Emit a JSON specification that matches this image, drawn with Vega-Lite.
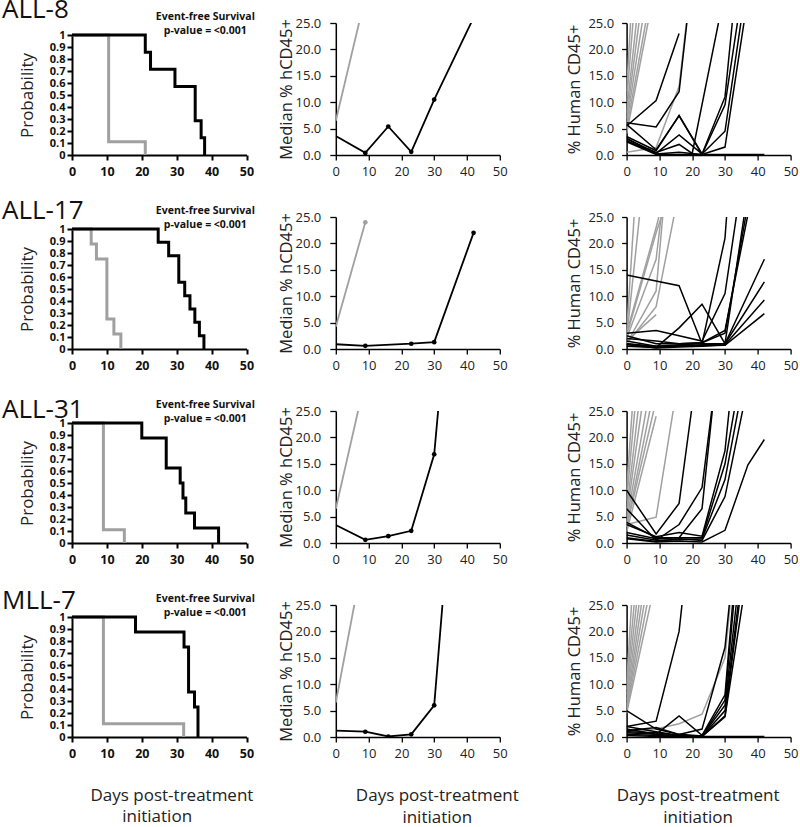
{
"$schema": "https://vega.github.io/schema/vega-lite/v6.json",
"background": "white",
"padding": {"left": 2, "top": -3, "right": 5, "bottom": 0},
"config": {
  "view": {"stroke": null},
  "font": "Open Sans",
  "axis": {"grid": false, "labelOverlap": false, "labelFlush": false, "domainColor": "#000", "tickColor": "#000", "labelColor": "#222", "titleColor": "#222", "labelFont": "Open Sans", "titleFont": "Open Sans", "titleFontWeight": "normal"}
},
"datasets": {
  "km": [
    {"pn":"ALL-8","g":"c","d":0,"s":1},{"pn":"ALL-8","g":"c","d":10.5,"s":0.111},{"pn":"ALL-8","g":"c","d":21,"s":0},
    {"pn":"ALL-8","g":"t","d":0,"s":1},{"pn":"ALL-8","g":"t","d":21,"s":0.857},{"pn":"ALL-8","g":"t","d":22.5,"s":0.714},{"pn":"ALL-8","g":"t","d":29.5,"s":0.571},{"pn":"ALL-8","g":"t","d":35.3,"s":0.286},{"pn":"ALL-8","g":"t","d":37,"s":0.143},{"pn":"ALL-8","g":"t","d":38,"s":0},
    {"pn":"ALL-17","g":"c","d":0,"s":1},{"pn":"ALL-17","g":"c","d":5.5,"s":0.875},{"pn":"ALL-17","g":"c","d":7,"s":0.75},{"pn":"ALL-17","g":"c","d":10,"s":0.25},{"pn":"ALL-17","g":"c","d":12,"s":0.125},{"pn":"ALL-17","g":"c","d":14,"s":0},
    {"pn":"ALL-17","g":"t","d":0,"s":1},{"pn":"ALL-17","g":"t","d":24.7,"s":0.889},{"pn":"ALL-17","g":"t","d":27.7,"s":0.778},{"pn":"ALL-17","g":"t","d":30.6,"s":0.556},{"pn":"ALL-17","g":"t","d":32.3,"s":0.444},{"pn":"ALL-17","g":"t","d":33.8,"s":0.333},{"pn":"ALL-17","g":"t","d":35.2,"s":0.222},{"pn":"ALL-17","g":"t","d":36.5,"s":0.111},{"pn":"ALL-17","g":"t","d":37.8,"s":0},
    {"pn":"ALL-31","g":"c","d":0,"s":1},{"pn":"ALL-31","g":"c","d":9,"s":0.111},{"pn":"ALL-31","g":"c","d":15,"s":0},
    {"pn":"ALL-31","g":"t","d":0,"s":1},{"pn":"ALL-31","g":"t","d":20,"s":0.875},{"pn":"ALL-31","g":"t","d":27,"s":0.625},{"pn":"ALL-31","g":"t","d":31,"s":0.5},{"pn":"ALL-31","g":"t","d":31.8,"s":0.375},{"pn":"ALL-31","g":"t","d":32.6,"s":0.25},{"pn":"ALL-31","g":"t","d":35.1,"s":0.125},{"pn":"ALL-31","g":"t","d":42,"s":0},
    {"pn":"MLL-7","g":"c","d":0,"s":1},{"pn":"MLL-7","g":"c","d":9,"s":0.111},{"pn":"MLL-7","g":"c","d":32,"s":0},
    {"pn":"MLL-7","g":"t","d":0,"s":1},{"pn":"MLL-7","g":"t","d":18.2,"s":0.875},{"pn":"MLL-7","g":"t","d":32.1,"s":0.75},{"pn":"MLL-7","g":"t","d":33.4,"s":0.375},{"pn":"MLL-7","g":"t","d":35.1,"s":0.25},{"pn":"MLL-7","g":"t","d":36.1,"s":0}
  ],
  "med": [
    {"pn":"ALL-8","g":"c","d":0,"v":6.5},{"pn":"ALL-8","g":"c","d":9,"v":30},
    {"pn":"ALL-8","g":"t","d":0,"v":3.6},{"pn":"ALL-8","g":"t","d":9,"v":0.4},{"pn":"ALL-8","g":"t","d":16,"v":5.4},{"pn":"ALL-8","g":"t","d":23,"v":0.6},{"pn":"ALL-8","g":"t","d":30,"v":10.5},{"pn":"ALL-8","g":"t","d":42,"v":26},
    {"pn":"ALL-17","g":"c","d":0,"v":4.2},{"pn":"ALL-17","g":"c","d":9,"v":24},
    {"pn":"ALL-17","g":"t","d":0,"v":0.9},{"pn":"ALL-17","g":"t","d":9,"v":0.6},{"pn":"ALL-17","g":"t","d":23,"v":1.0},{"pn":"ALL-17","g":"t","d":30,"v":1.3},{"pn":"ALL-17","g":"t","d":42,"v":22},
    {"pn":"ALL-31","g":"c","d":0,"v":6.5},{"pn":"ALL-31","g":"c","d":9,"v":31},
    {"pn":"ALL-31","g":"t","d":0,"v":3.4},{"pn":"ALL-31","g":"t","d":9,"v":0.6},{"pn":"ALL-31","g":"t","d":16,"v":1.3},{"pn":"ALL-31","g":"t","d":23,"v":2.3},{"pn":"ALL-31","g":"t","d":30,"v":16.8},{"pn":"ALL-31","g":"t","d":37,"v":65},
    {"pn":"MLL-7","g":"c","d":0,"v":6.5},{"pn":"MLL-7","g":"c","d":9,"v":36},
    {"pn":"MLL-7","g":"t","d":0,"v":1.2},{"pn":"MLL-7","g":"t","d":9,"v":1.0},{"pn":"MLL-7","g":"t","d":16,"v":0.1},{"pn":"MLL-7","g":"t","d":23,"v":0.5},{"pn":"MLL-7","g":"t","d":30,"v":6.0},{"pn":"MLL-7","g":"t","d":37,"v":59}
  ],
  "ind": [
    {"pn":"ALL-8","g":"c","m":1,"d":0,"v":12},{"pn":"ALL-8","g":"c","m":1,"d":9,"v":110},
    {"pn":"ALL-8","g":"c","m":2,"d":0,"v":10},{"pn":"ALL-8","g":"c","m":2,"d":9,"v":80},
    {"pn":"ALL-8","g":"c","m":3,"d":0,"v":8},{"pn":"ALL-8","g":"c","m":3,"d":9,"v":60},
    {"pn":"ALL-8","g":"c","m":4,"d":0,"v":7},{"pn":"ALL-8","g":"c","m":4,"d":9,"v":50},
    {"pn":"ALL-8","g":"c","m":5,"d":0,"v":6},{"pn":"ALL-8","g":"c","m":5,"d":9,"v":42},
    {"pn":"ALL-8","g":"c","m":6,"d":0,"v":5},{"pn":"ALL-8","g":"c","m":6,"d":9,"v":36},
    {"pn":"ALL-8","g":"c","m":7,"d":0,"v":4},{"pn":"ALL-8","g":"c","m":7,"d":9,"v":33},
    {"pn":"ALL-8","g":"c","m":8,"d":0,"v":0.5},{"pn":"ALL-8","g":"c","m":8,"d":9,"v":1.4},{"pn":"ALL-8","g":"c","m":8,"d":16,"v":13},{"pn":"ALL-8","g":"c","m":8,"d":21,"v":40},
    {"pn":"ALL-8","g":"t","m":1,"d":0,"v":5.5},{"pn":"ALL-8","g":"t","m":1,"d":9,"v":10.3},{"pn":"ALL-8","g":"t","m":1,"d":16,"v":23},
    {"pn":"ALL-8","g":"t","m":2,"d":0,"v":6.1},{"pn":"ALL-8","g":"t","m":2,"d":9,"v":5.3},{"pn":"ALL-8","g":"t","m":2,"d":16,"v":12},{"pn":"ALL-8","g":"t","m":2,"d":22,"v":45},
    {"pn":"ALL-8","g":"t","m":3,"d":0,"v":3},{"pn":"ALL-8","g":"t","m":3,"d":9,"v":0.5},{"pn":"ALL-8","g":"t","m":3,"d":16,"v":2},{"pn":"ALL-8","g":"t","m":3,"d":20,"v":0.3},{"pn":"ALL-8","g":"t","m":3,"d":28,"v":25},
    {"pn":"ALL-8","g":"t","m":4,"d":0,"v":3.5},{"pn":"ALL-8","g":"t","m":4,"d":9,"v":0.8},{"pn":"ALL-8","g":"t","m":4,"d":16,"v":7.5},{"pn":"ALL-8","g":"t","m":4,"d":23,"v":0.2},{"pn":"ALL-8","g":"t","m":4,"d":30,"v":11},{"pn":"ALL-8","g":"t","m":4,"d":33,"v":30},
    {"pn":"ALL-8","g":"t","m":5,"d":0,"v":5.8},{"pn":"ALL-8","g":"t","m":5,"d":9,"v":1},{"pn":"ALL-8","g":"t","m":5,"d":16,"v":7.4},{"pn":"ALL-8","g":"t","m":5,"d":23,"v":0.1},{"pn":"ALL-8","g":"t","m":5,"d":30,"v":9.5},{"pn":"ALL-8","g":"t","m":5,"d":35,"v":30},
    {"pn":"ALL-8","g":"t","m":6,"d":0,"v":2.7},{"pn":"ALL-8","g":"t","m":6,"d":9,"v":0.3},{"pn":"ALL-8","g":"t","m":6,"d":16,"v":3.8},{"pn":"ALL-8","g":"t","m":6,"d":23,"v":0.2},{"pn":"ALL-8","g":"t","m":6,"d":30,"v":4.5},{"pn":"ALL-8","g":"t","m":6,"d":36,"v":30},
    {"pn":"ALL-8","g":"t","m":7,"d":0,"v":3.2},{"pn":"ALL-8","g":"t","m":7,"d":9,"v":0.2},{"pn":"ALL-8","g":"t","m":7,"d":16,"v":0.5},{"pn":"ALL-8","g":"t","m":7,"d":23,"v":0.1},{"pn":"ALL-8","g":"t","m":7,"d":30,"v":1.5},{"pn":"ALL-8","g":"t","m":7,"d":37,"v":30},
    {"pn":"ALL-8","g":"t","m":8,"d":0,"v":2.5},{"pn":"ALL-8","g":"t","m":8,"d":9,"v":0.1},{"pn":"ALL-8","g":"t","m":8,"d":16,"v":0.1},{"pn":"ALL-8","g":"t","m":8,"d":23,"v":0.1},{"pn":"ALL-8","g":"t","m":8,"d":30,"v":0.1},{"pn":"ALL-8","g":"t","m":8,"d":42,"v":0.1},

    {"pn":"ALL-17","g":"c","m":1,"d":0,"v":3},{"pn":"ALL-17","g":"c","m":1,"d":9,"v":90},
    {"pn":"ALL-17","g":"c","m":2,"d":0,"v":2},{"pn":"ALL-17","g":"c","m":2,"d":9,"v":55},
    {"pn":"ALL-17","g":"c","m":3,"d":0,"v":1.5},{"pn":"ALL-17","g":"c","m":3,"d":9,"v":6.5},
    {"pn":"ALL-17","g":"c","m":4,"d":0,"v":1},{"pn":"ALL-17","g":"c","m":4,"d":9,"v":11},{"pn":"ALL-17","g":"c","m":4,"d":16,"v":60},
    {"pn":"ALL-17","g":"c","m":5,"d":0,"v":2},{"pn":"ALL-17","g":"c","m":5,"d":9,"v":17},{"pn":"ALL-17","g":"c","m":5,"d":16,"v":54},
    {"pn":"ALL-17","g":"c","m":6,"d":0,"v":3},{"pn":"ALL-17","g":"c","m":6,"d":9,"v":23},{"pn":"ALL-17","g":"c","m":6,"d":16,"v":40},
    {"pn":"ALL-17","g":"c","m":7,"d":0,"v":1},{"pn":"ALL-17","g":"c","m":7,"d":9,"v":8},{"pn":"ALL-17","g":"c","m":7,"d":16,"v":30},
    {"pn":"ALL-17","g":"c","m":8,"d":0,"v":2.5},{"pn":"ALL-17","g":"c","m":8,"d":9,"v":22},{"pn":"ALL-17","g":"c","m":8,"d":16,"v":35},
    {"pn":"ALL-17","g":"t","m":1,"d":0,"v":14},{"pn":"ALL-17","g":"t","m":1,"d":16,"v":12},{"pn":"ALL-17","g":"t","m":1,"d":23,"v":1.0},{"pn":"ALL-17","g":"t","m":1,"d":30,"v":21},{"pn":"ALL-17","g":"t","m":1,"d":37,"v":80},
    {"pn":"ALL-17","g":"t","m":2,"d":0,"v":3},{"pn":"ALL-17","g":"t","m":2,"d":9,"v":3.5},{"pn":"ALL-17","g":"t","m":2,"d":16,"v":2.5},{"pn":"ALL-17","g":"t","m":2,"d":23,"v":1.5},{"pn":"ALL-17","g":"t","m":2,"d":30,"v":10.5},{"pn":"ALL-17","g":"t","m":2,"d":37,"v":40},
    {"pn":"ALL-17","g":"t","m":3,"d":0,"v":1},{"pn":"ALL-17","g":"t","m":3,"d":9,"v":0.3},{"pn":"ALL-17","g":"t","m":3,"d":16,"v":4},{"pn":"ALL-17","g":"t","m":3,"d":23,"v":8.5},{"pn":"ALL-17","g":"t","m":3,"d":30,"v":1.0},{"pn":"ALL-17","g":"t","m":3,"d":37,"v":30},
    {"pn":"ALL-17","g":"t","m":4,"d":0,"v":2.5},{"pn":"ALL-17","g":"t","m":4,"d":9,"v":1},{"pn":"ALL-17","g":"t","m":4,"d":16,"v":1},{"pn":"ALL-17","g":"t","m":4,"d":23,"v":1.2},{"pn":"ALL-17","g":"t","m":4,"d":30,"v":3.5},{"pn":"ALL-17","g":"t","m":4,"d":37,"v":25.5},
    {"pn":"ALL-17","g":"t","m":5,"d":0,"v":1},{"pn":"ALL-17","g":"t","m":5,"d":9,"v":0.5},{"pn":"ALL-17","g":"t","m":5,"d":16,"v":0.8},{"pn":"ALL-17","g":"t","m":5,"d":23,"v":1},{"pn":"ALL-17","g":"t","m":5,"d":30,"v":1},{"pn":"ALL-17","g":"t","m":5,"d":42,"v":17},
    {"pn":"ALL-17","g":"t","m":6,"d":0,"v":0.5},{"pn":"ALL-17","g":"t","m":6,"d":9,"v":0.3},{"pn":"ALL-17","g":"t","m":6,"d":16,"v":0.5},{"pn":"ALL-17","g":"t","m":6,"d":23,"v":0.8},{"pn":"ALL-17","g":"t","m":6,"d":30,"v":1},{"pn":"ALL-17","g":"t","m":6,"d":42,"v":12.7},
    {"pn":"ALL-17","g":"t","m":7,"d":0,"v":0.8},{"pn":"ALL-17","g":"t","m":7,"d":9,"v":0.2},{"pn":"ALL-17","g":"t","m":7,"d":16,"v":0.4},{"pn":"ALL-17","g":"t","m":7,"d":23,"v":0.5},{"pn":"ALL-17","g":"t","m":7,"d":30,"v":0.8},{"pn":"ALL-17","g":"t","m":7,"d":42,"v":9.3},
    {"pn":"ALL-17","g":"t","m":8,"d":0,"v":1.5},{"pn":"ALL-17","g":"t","m":8,"d":9,"v":0.5},{"pn":"ALL-17","g":"t","m":8,"d":16,"v":0.6},{"pn":"ALL-17","g":"t","m":8,"d":23,"v":0.6},{"pn":"ALL-17","g":"t","m":8,"d":30,"v":0.7},{"pn":"ALL-17","g":"t","m":8,"d":42,"v":6.7},
    {"pn":"ALL-17","g":"t","m":9,"d":0,"v":2},{"pn":"ALL-17","g":"t","m":9,"d":9,"v":1.5},{"pn":"ALL-17","g":"t","m":9,"d":16,"v":1},{"pn":"ALL-17","g":"t","m":9,"d":23,"v":1.2},{"pn":"ALL-17","g":"t","m":9,"d":30,"v":3},{"pn":"ALL-17","g":"t","m":9,"d":42,"v":45},

    {"pn":"ALL-31","g":"c","m":1,"d":0,"v":10},{"pn":"ALL-31","g":"c","m":1,"d":9,"v":90},
    {"pn":"ALL-31","g":"c","m":2,"d":0,"v":8},{"pn":"ALL-31","g":"c","m":2,"d":9,"v":70},
    {"pn":"ALL-31","g":"c","m":3,"d":0,"v":6},{"pn":"ALL-31","g":"c","m":3,"d":9,"v":55},
    {"pn":"ALL-31","g":"c","m":4,"d":0,"v":5},{"pn":"ALL-31","g":"c","m":4,"d":9,"v":45},
    {"pn":"ALL-31","g":"c","m":5,"d":0,"v":4},{"pn":"ALL-31","g":"c","m":5,"d":9,"v":36},
    {"pn":"ALL-31","g":"c","m":6,"d":0,"v":3},{"pn":"ALL-31","g":"c","m":6,"d":9,"v":31},
    {"pn":"ALL-31","g":"c","m":7,"d":0,"v":3},{"pn":"ALL-31","g":"c","m":7,"d":9,"v":27},
    {"pn":"ALL-31","g":"c","m":8,"d":0,"v":2},{"pn":"ALL-31","g":"c","m":8,"d":9,"v":24},
    {"pn":"ALL-31","g":"c","m":9,"d":0,"v":3.5},{"pn":"ALL-31","g":"c","m":9,"d":9,"v":4.9},{"pn":"ALL-31","g":"c","m":9,"d":16,"v":32},
    {"pn":"ALL-31","g":"t","m":1,"d":0,"v":10},{"pn":"ALL-31","g":"t","m":1,"d":9,"v":1.7},{"pn":"ALL-31","g":"t","m":1,"d":16,"v":7.5},{"pn":"ALL-31","g":"t","m":1,"d":23,"v":40},
    {"pn":"ALL-31","g":"t","m":2,"d":0,"v":6.5},{"pn":"ALL-31","g":"t","m":2,"d":9,"v":0.5},{"pn":"ALL-31","g":"t","m":2,"d":16,"v":3.5},{"pn":"ALL-31","g":"t","m":2,"d":23,"v":10.5},{"pn":"ALL-31","g":"t","m":2,"d":30,"v":45},
    {"pn":"ALL-31","g":"t","m":3,"d":0,"v":3.9},{"pn":"ALL-31","g":"t","m":3,"d":9,"v":1},{"pn":"ALL-31","g":"t","m":3,"d":16,"v":1},{"pn":"ALL-31","g":"t","m":3,"d":23,"v":6.5},{"pn":"ALL-31","g":"t","m":3,"d":30,"v":48},
    {"pn":"ALL-31","g":"t","m":4,"d":0,"v":3.5},{"pn":"ALL-31","g":"t","m":4,"d":9,"v":1.2},{"pn":"ALL-31","g":"t","m":4,"d":16,"v":2},{"pn":"ALL-31","g":"t","m":4,"d":23,"v":1.3},{"pn":"ALL-31","g":"t","m":4,"d":30,"v":17.5},{"pn":"ALL-31","g":"t","m":4,"d":37,"v":60},
    {"pn":"ALL-31","g":"t","m":5,"d":0,"v":2},{"pn":"ALL-31","g":"t","m":5,"d":9,"v":0.8},{"pn":"ALL-31","g":"t","m":5,"d":16,"v":1},{"pn":"ALL-31","g":"t","m":5,"d":23,"v":1},{"pn":"ALL-31","g":"t","m":5,"d":30,"v":15},{"pn":"ALL-31","g":"t","m":5,"d":37,"v":40},
    {"pn":"ALL-31","g":"t","m":6,"d":0,"v":1.5},{"pn":"ALL-31","g":"t","m":6,"d":9,"v":0.5},{"pn":"ALL-31","g":"t","m":6,"d":16,"v":0.6},{"pn":"ALL-31","g":"t","m":6,"d":23,"v":0.8},{"pn":"ALL-31","g":"t","m":6,"d":30,"v":12},{"pn":"ALL-31","g":"t","m":6,"d":37,"v":35},
    {"pn":"ALL-31","g":"t","m":7,"d":0,"v":1},{"pn":"ALL-31","g":"t","m":7,"d":9,"v":0.3},{"pn":"ALL-31","g":"t","m":7,"d":16,"v":0.8},{"pn":"ALL-31","g":"t","m":7,"d":23,"v":0.5},{"pn":"ALL-31","g":"t","m":7,"d":30,"v":8.8},{"pn":"ALL-31","g":"t","m":7,"d":37,"v":30},
    {"pn":"ALL-31","g":"t","m":8,"d":0,"v":0.8},{"pn":"ALL-31","g":"t","m":8,"d":9,"v":0.2},{"pn":"ALL-31","g":"t","m":8,"d":16,"v":0.4},{"pn":"ALL-31","g":"t","m":8,"d":23,"v":0.2},{"pn":"ALL-31","g":"t","m":8,"d":30,"v":2.4},{"pn":"ALL-31","g":"t","m":8,"d":37,"v":14.8},{"pn":"ALL-31","g":"t","m":8,"d":42,"v":19.6},

    {"pn":"MLL-7","g":"c","m":1,"d":0,"v":10},{"pn":"MLL-7","g":"c","m":1,"d":9,"v":100},
    {"pn":"MLL-7","g":"c","m":2,"d":0,"v":9},{"pn":"MLL-7","g":"c","m":2,"d":9,"v":72},
    {"pn":"MLL-7","g":"c","m":3,"d":0,"v":8},{"pn":"MLL-7","g":"c","m":3,"d":9,"v":59},
    {"pn":"MLL-7","g":"c","m":4,"d":0,"v":7},{"pn":"MLL-7","g":"c","m":4,"d":9,"v":50},
    {"pn":"MLL-7","g":"c","m":5,"d":0,"v":6},{"pn":"MLL-7","g":"c","m":5,"d":9,"v":44},
    {"pn":"MLL-7","g":"c","m":6,"d":0,"v":5.5},{"pn":"MLL-7","g":"c","m":6,"d":9,"v":38.6},
    {"pn":"MLL-7","g":"c","m":7,"d":0,"v":5},{"pn":"MLL-7","g":"c","m":7,"d":9,"v":34},
    {"pn":"MLL-7","g":"c","m":8,"d":0,"v":4.5},{"pn":"MLL-7","g":"c","m":8,"d":9,"v":30.1},
    {"pn":"MLL-7","g":"c","m":9,"d":0,"v":1},{"pn":"MLL-7","g":"c","m":9,"d":9,"v":1.5},{"pn":"MLL-7","g":"c","m":9,"d":16,"v":2.5},{"pn":"MLL-7","g":"c","m":9,"d":23,"v":4.3},{"pn":"MLL-7","g":"c","m":9,"d":30,"v":15},{"pn":"MLL-7","g":"c","m":9,"d":37,"v":60},
    {"pn":"MLL-7","g":"t","m":1,"d":0,"v":2},{"pn":"MLL-7","g":"t","m":1,"d":9,"v":3},{"pn":"MLL-7","g":"t","m":1,"d":16,"v":20},{"pn":"MLL-7","g":"t","m":1,"d":23,"v":60},
    {"pn":"MLL-7","g":"t","m":2,"d":0,"v":5},{"pn":"MLL-7","g":"t","m":2,"d":9,"v":1.5},{"pn":"MLL-7","g":"t","m":2,"d":16,"v":0.5},{"pn":"MLL-7","g":"t","m":2,"d":23,"v":1.5},{"pn":"MLL-7","g":"t","m":2,"d":30,"v":17},{"pn":"MLL-7","g":"t","m":2,"d":37,"v":60},
    {"pn":"MLL-7","g":"t","m":3,"d":0,"v":1.5},{"pn":"MLL-7","g":"t","m":3,"d":9,"v":0.5},{"pn":"MLL-7","g":"t","m":3,"d":16,"v":4},{"pn":"MLL-7","g":"t","m":3,"d":23,"v":0.3},{"pn":"MLL-7","g":"t","m":3,"d":30,"v":8},{"pn":"MLL-7","g":"t","m":3,"d":37,"v":60},
    {"pn":"MLL-7","g":"t","m":4,"d":0,"v":2},{"pn":"MLL-7","g":"t","m":4,"d":9,"v":1},{"pn":"MLL-7","g":"t","m":4,"d":16,"v":0.3},{"pn":"MLL-7","g":"t","m":4,"d":23,"v":0.2},{"pn":"MLL-7","g":"t","m":4,"d":30,"v":7},{"pn":"MLL-7","g":"t","m":4,"d":37,"v":55},
    {"pn":"MLL-7","g":"t","m":5,"d":0,"v":1.2},{"pn":"MLL-7","g":"t","m":5,"d":9,"v":1.8},{"pn":"MLL-7","g":"t","m":5,"d":16,"v":0.5},{"pn":"MLL-7","g":"t","m":5,"d":23,"v":0.2},{"pn":"MLL-7","g":"t","m":5,"d":30,"v":6},{"pn":"MLL-7","g":"t","m":5,"d":37,"v":45},
    {"pn":"MLL-7","g":"t","m":6,"d":0,"v":1},{"pn":"MLL-7","g":"t","m":6,"d":9,"v":0.8},{"pn":"MLL-7","g":"t","m":6,"d":16,"v":0.3},{"pn":"MLL-7","g":"t","m":6,"d":23,"v":0.1},{"pn":"MLL-7","g":"t","m":6,"d":30,"v":5},{"pn":"MLL-7","g":"t","m":6,"d":37,"v":40},
    {"pn":"MLL-7","g":"t","m":7,"d":0,"v":0.8},{"pn":"MLL-7","g":"t","m":7,"d":9,"v":0.5},{"pn":"MLL-7","g":"t","m":7,"d":16,"v":0.2},{"pn":"MLL-7","g":"t","m":7,"d":23,"v":0.1},{"pn":"MLL-7","g":"t","m":7,"d":30,"v":4},{"pn":"MLL-7","g":"t","m":7,"d":37,"v":38},
    {"pn":"MLL-7","g":"t","m":8,"d":0,"v":0.5},{"pn":"MLL-7","g":"t","m":8,"d":9,"v":0.3},{"pn":"MLL-7","g":"t","m":8,"d":16,"v":0.1},{"pn":"MLL-7","g":"t","m":8,"d":23,"v":0.1},{"pn":"MLL-7","g":"t","m":8,"d":30,"v":3.8},{"pn":"MLL-7","g":"t","m":8,"d":37,"v":32},
    {"pn":"MLL-7","g":"t","m":9,"d":0,"v":0.3},{"pn":"MLL-7","g":"t","m":9,"d":9,"v":0.1},{"pn":"MLL-7","g":"t","m":9,"d":16,"v":0.1},{"pn":"MLL-7","g":"t","m":9,"d":23,"v":0.1},{"pn":"MLL-7","g":"t","m":9,"d":30,"v":0.1},{"pn":"MLL-7","g":"t","m":9,"d":42,"v":0.1}
  ]
},
"columns": 3,
"bounds": "flush",
"align": "each",
"spacing": {"row": 62, "column": 88.8},
"concat": [
  {"width": 174.5, "height": 132,
   "title": {"text": "ALL-8", "frame": "group", "anchor": "start", "orient": "top", "offset": 0, "baseline": "alphabetic", "dx": -70, "dy": 32, "fontSize": 26, "fontWeight": "normal", "color": "#111", "font": "Open Sans"},
   "encoding": {
    "x": {"type": "quantitative", "scale": {"domain": [0, 50]}, "axis": {"values": [0,10,20,30,40,50], "labelOverlap": false, "title": null, "domainWidth": 2, "tickWidth": 2, "tickSize": 5, "labelPadding": 5, "labelFontWeight": "bold", "labelFontSize": 12.5, "labelColor": "#111"}},
    "y": {"type": "quantitative", "scale": {"domain": [0, 1], "range": [132, 12]}, "axis": {"values": [0,0.1,0.2,0.3,0.4,0.5,0.6,0.7,0.8,0.9,1], "labelOverlap": false, "format": ".1~f", "title": "Probability", "titleFontSize": 17, "titlePadding": 13, "domainWidth": 2, "tickWidth": 2, "tickSize": 5, "labelPadding": 2, "labelFontWeight": "bold", "labelFontSize": 11, "labelColor": "#111"}}
   },
   "layer": [
    {"data": {"name": "km"}, "transform": [{"filter": "datum.pn == 'ALL-8'"}],
     "mark": {"type": "line", "interpolate": "step-after", "strokeWidth": 3},
     "encoding": {"x": {"field": "d"}, "y": {"field": "s"},
      "color": {"field": "g", "type": "nominal", "scale": {"domain": ["c","t"], "range": ["#a0a0a0","#000000"]}, "legend": null}}},
    {"data": {"values": [{"n": 1}]},
     "mark": {"type": "text", "fontSize": 10.5, "fontWeight": "bold", "align": "center", "baseline": "middle", "lineHeight": 14, "color": "#111", "font": "Open Sans"},
     "encoding": {"x": {"datum": 38.2}, "y": {"datum": 1.15}, "text": {"value": ["Event-free Survival", "p-value = <0.001"]}}}
   ]},
  {"width": 202, "height": 132,
   "data": {"name": "med"}, "transform": [{"filter": "datum.pn == 'ALL-8'"}],
   "encoding": {
    "x": {"field": "d", "type": "quantitative", "scale": {"domain": [0, 50], "range": [0, 164]}, "axis": {"values": [0,10,20,30,40,50], "labelOverlap": false, "title": null, "domainWidth": 1.5, "tickWidth": 1.3, "tickSize": 5, "labelPadding": 5, "labelFontSize": 13}},
    "y": {"field": "v", "type": "quantitative", "scale": {"domain": [0, 25]}, "axis": {"values": [0,5,10,15,20,25], "labelOverlap": false, "format": ".1f", "title": "Median % hCD45+", "titleFontSize": 16.5, "titlePadding": 1, "domainWidth": 1.5, "tickWidth": 1.3, "tickSize": 6, "labelPadding": 9, "labelFontSize": 13}},
    "color": {"field": "g", "type": "nominal", "scale": {"domain": ["c","t"], "range": ["#a0a0a0","#000000"]}, "legend": null}
   },
   "layer": [
    {"mark": {"type": "line", "strokeWidth": 1.8, "clip": true}},
    {"transform": [{"filter": "datum.d > 0"}], "mark": {"type": "point", "filled": true, "size": 22, "clip": true, "opacity": 1}}
   ]},
  {"width": 164, "height": 132,
   "data": {"name": "ind"}, "transform": [{"filter": "datum.pn == 'ALL-8'"}],
   "encoding": {
    "x": {"field": "d", "type": "quantitative", "scale": {"domain": [0, 50]}, "axis": {"values": [0,10,20,30,40,50], "labelOverlap": false, "title": null, "domainWidth": 1.5, "tickWidth": 1.3, "tickSize": 5, "labelPadding": 5, "labelFontSize": 13}},
    "y": {"field": "v", "type": "quantitative", "scale": {"domain": [0, 25]}, "axis": {"values": [0,5,10,15,20,25], "labelOverlap": false, "format": ".1f", "title": "% Human CD45+", "titleFontSize": 16.5, "titlePadding": 5, "domainWidth": 1.5, "tickWidth": 1.3, "tickSize": 5, "labelPadding": 8, "labelFontSize": 13}},
    "detail": {"field": "m", "type": "nominal"}
   },
   "layer": [
    {"transform": [{"filter": "datum.g == 'c'"}], "mark": {"type": "line", "strokeWidth": 1.5, "clip": true, "color": "#a0a0a0"}},
    {"transform": [{"filter": "datum.g == 't'"}], "mark": {"type": "line", "strokeWidth": 1.5, "clip": true, "color": "#000000"}}
   ]},

  {"width": 174.5, "height": 132,
   "title": {"text": "ALL-17", "frame": "group", "anchor": "start", "orient": "top", "offset": 0, "baseline": "alphabetic", "dx": -70, "dy": 39, "fontSize": 26, "fontWeight": "normal", "color": "#111", "font": "Open Sans"},
   "encoding": {
    "x": {"type": "quantitative", "scale": {"domain": [0, 50]}, "axis": {"values": [0,10,20,30,40,50], "labelOverlap": false, "title": null, "domainWidth": 2, "tickWidth": 2, "tickSize": 5, "labelPadding": 5, "labelFontWeight": "bold", "labelFontSize": 12.5, "labelColor": "#111"}},
    "y": {"type": "quantitative", "scale": {"domain": [0, 1], "range": [132, 12]}, "axis": {"values": [0,0.1,0.2,0.3,0.4,0.5,0.6,0.7,0.8,0.9,1], "labelOverlap": false, "format": ".1~f", "title": "Probability", "titleFontSize": 17, "titlePadding": 13, "domainWidth": 2, "tickWidth": 2, "tickSize": 5, "labelPadding": 2, "labelFontWeight": "bold", "labelFontSize": 11, "labelColor": "#111"}}
   },
   "layer": [
    {"data": {"name": "km"}, "transform": [{"filter": "datum.pn == 'ALL-17'"}],
     "mark": {"type": "line", "interpolate": "step-after", "strokeWidth": 3},
     "encoding": {"x": {"field": "d"}, "y": {"field": "s"},
      "color": {"field": "g", "type": "nominal", "scale": {"domain": ["c","t"], "range": ["#a0a0a0","#000000"]}, "legend": null}}},
    {"data": {"values": [{"n": 1}]},
     "mark": {"type": "text", "fontSize": 10.5, "fontWeight": "bold", "align": "center", "baseline": "middle", "lineHeight": 14, "color": "#111", "font": "Open Sans"},
     "encoding": {"x": {"datum": 38.2}, "y": {"datum": 1.15}, "text": {"value": ["Event-free Survival", "p-value = <0.001"]}}}
   ]},
  {"width": 202, "height": 132,
   "data": {"name": "med"}, "transform": [{"filter": "datum.pn == 'ALL-17'"}],
   "encoding": {
    "x": {"field": "d", "type": "quantitative", "scale": {"domain": [0, 50], "range": [0, 164]}, "axis": {"values": [0,10,20,30,40,50], "labelOverlap": false, "title": null, "domainWidth": 1.5, "tickWidth": 1.3, "tickSize": 5, "labelPadding": 5, "labelFontSize": 13}},
    "y": {"field": "v", "type": "quantitative", "scale": {"domain": [0, 25]}, "axis": {"values": [0,5,10,15,20,25], "labelOverlap": false, "format": ".1f", "title": "Median % hCD45+", "titleFontSize": 16.5, "titlePadding": 1, "domainWidth": 1.5, "tickWidth": 1.3, "tickSize": 6, "labelPadding": 9, "labelFontSize": 13}},
    "color": {"field": "g", "type": "nominal", "scale": {"domain": ["c","t"], "range": ["#a0a0a0","#000000"]}, "legend": null}
   },
   "layer": [
    {"mark": {"type": "line", "strokeWidth": 1.8, "clip": true}},
    {"transform": [{"filter": "datum.d > 0"}], "mark": {"type": "point", "filled": true, "size": 22, "clip": true, "opacity": 1}}
   ]},
  {"width": 164, "height": 132,
   "data": {"name": "ind"}, "transform": [{"filter": "datum.pn == 'ALL-17'"}],
   "encoding": {
    "x": {"field": "d", "type": "quantitative", "scale": {"domain": [0, 50]}, "axis": {"values": [0,10,20,30,40,50], "labelOverlap": false, "title": null, "domainWidth": 1.5, "tickWidth": 1.3, "tickSize": 5, "labelPadding": 5, "labelFontSize": 13}},
    "y": {"field": "v", "type": "quantitative", "scale": {"domain": [0, 25]}, "axis": {"values": [0,5,10,15,20,25], "labelOverlap": false, "format": ".1f", "title": "% Human CD45+", "titleFontSize": 16.5, "titlePadding": 5, "domainWidth": 1.5, "tickWidth": 1.3, "tickSize": 5, "labelPadding": 8, "labelFontSize": 13}},
    "detail": {"field": "m", "type": "nominal"}
   },
   "layer": [
    {"transform": [{"filter": "datum.g == 'c'"}], "mark": {"type": "line", "strokeWidth": 1.5, "clip": true, "color": "#a0a0a0"}},
    {"transform": [{"filter": "datum.g == 't'"}], "mark": {"type": "line", "strokeWidth": 1.5, "clip": true, "color": "#000000"}}
   ]},

  {"width": 174.5, "height": 132,
   "title": {"text": "ALL-31", "frame": "group", "anchor": "start", "orient": "top", "offset": 0, "baseline": "alphabetic", "dx": -70, "dy": 44.2, "fontSize": 26, "fontWeight": "normal", "color": "#111", "font": "Open Sans"},
   "encoding": {
    "x": {"type": "quantitative", "scale": {"domain": [0, 50]}, "axis": {"values": [0,10,20,30,40,50], "labelOverlap": false, "title": null, "domainWidth": 2, "tickWidth": 2, "tickSize": 5, "labelPadding": 5, "labelFontWeight": "bold", "labelFontSize": 12.5, "labelColor": "#111"}},
    "y": {"type": "quantitative", "scale": {"domain": [0, 1], "range": [132, 12]}, "axis": {"values": [0,0.1,0.2,0.3,0.4,0.5,0.6,0.7,0.8,0.9,1], "labelOverlap": false, "format": ".1~f", "title": "Probability", "titleFontSize": 17, "titlePadding": 13, "domainWidth": 2, "tickWidth": 2, "tickSize": 5, "labelPadding": 2, "labelFontWeight": "bold", "labelFontSize": 11, "labelColor": "#111"}}
   },
   "layer": [
    {"data": {"name": "km"}, "transform": [{"filter": "datum.pn == 'ALL-31'"}],
     "mark": {"type": "line", "interpolate": "step-after", "strokeWidth": 3},
     "encoding": {"x": {"field": "d"}, "y": {"field": "s"},
      "color": {"field": "g", "type": "nominal", "scale": {"domain": ["c","t"], "range": ["#a0a0a0","#000000"]}, "legend": null}}},
    {"data": {"values": [{"n": 1}]},
     "mark": {"type": "text", "fontSize": 10.5, "fontWeight": "bold", "align": "center", "baseline": "middle", "lineHeight": 14, "color": "#111", "font": "Open Sans"},
     "encoding": {"x": {"datum": 38.2}, "y": {"datum": 1.15}, "text": {"value": ["Event-free Survival", "p-value = <0.001"]}}}
   ]},
  {"width": 202, "height": 132,
   "data": {"name": "med"}, "transform": [{"filter": "datum.pn == 'ALL-31'"}],
   "encoding": {
    "x": {"field": "d", "type": "quantitative", "scale": {"domain": [0, 50], "range": [0, 164]}, "axis": {"values": [0,10,20,30,40,50], "labelOverlap": false, "title": null, "domainWidth": 1.5, "tickWidth": 1.3, "tickSize": 5, "labelPadding": 5, "labelFontSize": 13}},
    "y": {"field": "v", "type": "quantitative", "scale": {"domain": [0, 25]}, "axis": {"values": [0,5,10,15,20,25], "labelOverlap": false, "format": ".1f", "title": "Median % hCD45+", "titleFontSize": 16.5, "titlePadding": 1, "domainWidth": 1.5, "tickWidth": 1.3, "tickSize": 6, "labelPadding": 9, "labelFontSize": 13}},
    "color": {"field": "g", "type": "nominal", "scale": {"domain": ["c","t"], "range": ["#a0a0a0","#000000"]}, "legend": null}
   },
   "layer": [
    {"mark": {"type": "line", "strokeWidth": 1.8, "clip": true}},
    {"transform": [{"filter": "datum.d > 0"}], "mark": {"type": "point", "filled": true, "size": 22, "clip": true, "opacity": 1}}
   ]},
  {"width": 164, "height": 132,
   "data": {"name": "ind"}, "transform": [{"filter": "datum.pn == 'ALL-31'"}],
   "encoding": {
    "x": {"field": "d", "type": "quantitative", "scale": {"domain": [0, 50]}, "axis": {"values": [0,10,20,30,40,50], "labelOverlap": false, "title": null, "domainWidth": 1.5, "tickWidth": 1.3, "tickSize": 5, "labelPadding": 5, "labelFontSize": 13}},
    "y": {"field": "v", "type": "quantitative", "scale": {"domain": [0, 25]}, "axis": {"values": [0,5,10,15,20,25], "labelOverlap": false, "format": ".1f", "title": "% Human CD45+", "titleFontSize": 16.5, "titlePadding": 5, "domainWidth": 1.5, "tickWidth": 1.3, "tickSize": 5, "labelPadding": 8, "labelFontSize": 13}},
    "detail": {"field": "m", "type": "nominal"}
   },
   "layer": [
    {"transform": [{"filter": "datum.g == 'c'"}], "mark": {"type": "line", "strokeWidth": 1.5, "clip": true, "color": "#a0a0a0"}},
    {"transform": [{"filter": "datum.g == 't'"}], "mark": {"type": "line", "strokeWidth": 1.5, "clip": true, "color": "#000000"}}
   ]},

  {"width": 174.5, "height": 132,
   "title": {"text": "MLL-7", "frame": "group", "anchor": "start", "orient": "top", "offset": 0, "baseline": "alphabetic", "dx": -70, "dy": 41, "fontSize": 26, "fontWeight": "normal", "color": "#111", "font": "Open Sans"},
   "encoding": {
    "x": {"type": "quantitative", "scale": {"domain": [0, 50]}, "axis": {"values": [0,10,20,30,40,50], "labelOverlap": false, "title": "Days post-treatment", "titleFontSize": 17, "titleX": 18, "titleY": 63, "titleBaseline": "alphabetic", "titleAlign": "left", "titleColor": "#222", "domainWidth": 2, "tickWidth": 2, "tickSize": 5, "labelPadding": 5, "labelFontWeight": "bold", "labelFontSize": 12.5, "labelColor": "#111"}},
    "y": {"type": "quantitative", "scale": {"domain": [0, 1], "range": [132, 12]}, "axis": {"values": [0,0.1,0.2,0.3,0.4,0.5,0.6,0.7,0.8,0.9,1], "labelOverlap": false, "format": ".1~f", "title": "Probability", "titleFontSize": 17, "titlePadding": 13, "domainWidth": 2, "tickWidth": 2, "tickSize": 5, "labelPadding": 2, "labelFontWeight": "bold", "labelFontSize": 11, "labelColor": "#111"}}
   },
   "layer": [
    {"data": {"name": "km"}, "transform": [{"filter": "datum.pn == 'MLL-7'"}],
     "mark": {"type": "line", "interpolate": "step-after", "strokeWidth": 3},
     "encoding": {"x": {"field": "d"}, "y": {"field": "s"},
      "color": {"field": "g", "type": "nominal", "scale": {"domain": ["c","t"], "range": ["#a0a0a0","#000000"]}, "legend": null}}},
    {"data": {"values": [{"n": 1}]},
     "mark": {"type": "text", "fontSize": 10.5, "fontWeight": "bold", "align": "center", "baseline": "middle", "lineHeight": 14, "color": "#111", "font": "Open Sans"},
     "encoding": {"x": {"datum": 38.2}, "y": {"datum": 1.15}, "text": {"value": ["Event-free Survival", "p-value = <0.001"]}}},
    {"data": {"values": [{"n": 1}]},
     "mark": {"type": "text", "fontSize": 17, "align": "center", "baseline": "middle", "color": "#222", "font": "Open Sans"},
     "encoding": {"x": {"datum": 24.4}, "y": {"datum": -0.667}, "text": {"value": "initiation"}}}
   ]},
  {"width": 202, "height": 132,
   "data": {"name": "med"}, "transform": [{"filter": "datum.pn == 'MLL-7'"}],
   "encoding": {
    "x": {"field": "d", "type": "quantitative", "scale": {"domain": [0, 50], "range": [0, 164]}, "axis": {"values": [0,10,20,30,40,50], "labelOverlap": false, "title": ["Days post-treatment", "initiation"], "titleFontSize": 17, "titleX": 101, "titleY": 63, "titleBaseline": "alphabetic", "titleAlign": "center", "titleLineHeight": 22, "domainWidth": 1.5, "tickWidth": 1.3, "tickSize": 5, "labelPadding": 5, "labelFontSize": 13}},
    "y": {"field": "v", "type": "quantitative", "scale": {"domain": [0, 25]}, "axis": {"values": [0,5,10,15,20,25], "labelOverlap": false, "format": ".1f", "title": "Median % hCD45+", "titleFontSize": 16.5, "titlePadding": 1, "domainWidth": 1.5, "tickWidth": 1.3, "tickSize": 6, "labelPadding": 9, "labelFontSize": 13}},
    "color": {"field": "g", "type": "nominal", "scale": {"domain": ["c","t"], "range": ["#a0a0a0","#000000"]}, "legend": null}
   },
   "layer": [
    {"mark": {"type": "line", "strokeWidth": 1.8, "clip": true}},
    {"transform": [{"filter": "datum.d > 0"}], "mark": {"type": "point", "filled": true, "size": 22, "clip": true, "opacity": 1}}
   ]},
  {"width": 164, "height": 132,
   "data": {"name": "ind"}, "transform": [{"filter": "datum.pn == 'MLL-7'"}],
   "encoding": {
    "x": {"field": "d", "type": "quantitative", "scale": {"domain": [0, 50]}, "axis": {"values": [0,10,20,30,40,50], "labelOverlap": false, "title": ["Days post-treatment", "initiation"], "titleFontSize": 17, "titleX": 71, "titleY": 63, "titleBaseline": "alphabetic", "titleAlign": "center", "titleLineHeight": 22, "domainWidth": 1.5, "tickWidth": 1.3, "tickSize": 5, "labelPadding": 5, "labelFontSize": 13}},
    "y": {"field": "v", "type": "quantitative", "scale": {"domain": [0, 25]}, "axis": {"values": [0,5,10,15,20,25], "labelOverlap": false, "format": ".1f", "title": "% Human CD45+", "titleFontSize": 16.5, "titlePadding": 5, "domainWidth": 1.5, "tickWidth": 1.3, "tickSize": 5, "labelPadding": 8, "labelFontSize": 13}},
    "detail": {"field": "m", "type": "nominal"}
   },
   "layer": [
    {"transform": [{"filter": "datum.g == 'c'"}], "mark": {"type": "line", "strokeWidth": 1.5, "clip": true, "color": "#a0a0a0"}},
    {"transform": [{"filter": "datum.g == 't'"}], "mark": {"type": "line", "strokeWidth": 1.5, "clip": true, "color": "#000000"}}
   ]}
]
}
